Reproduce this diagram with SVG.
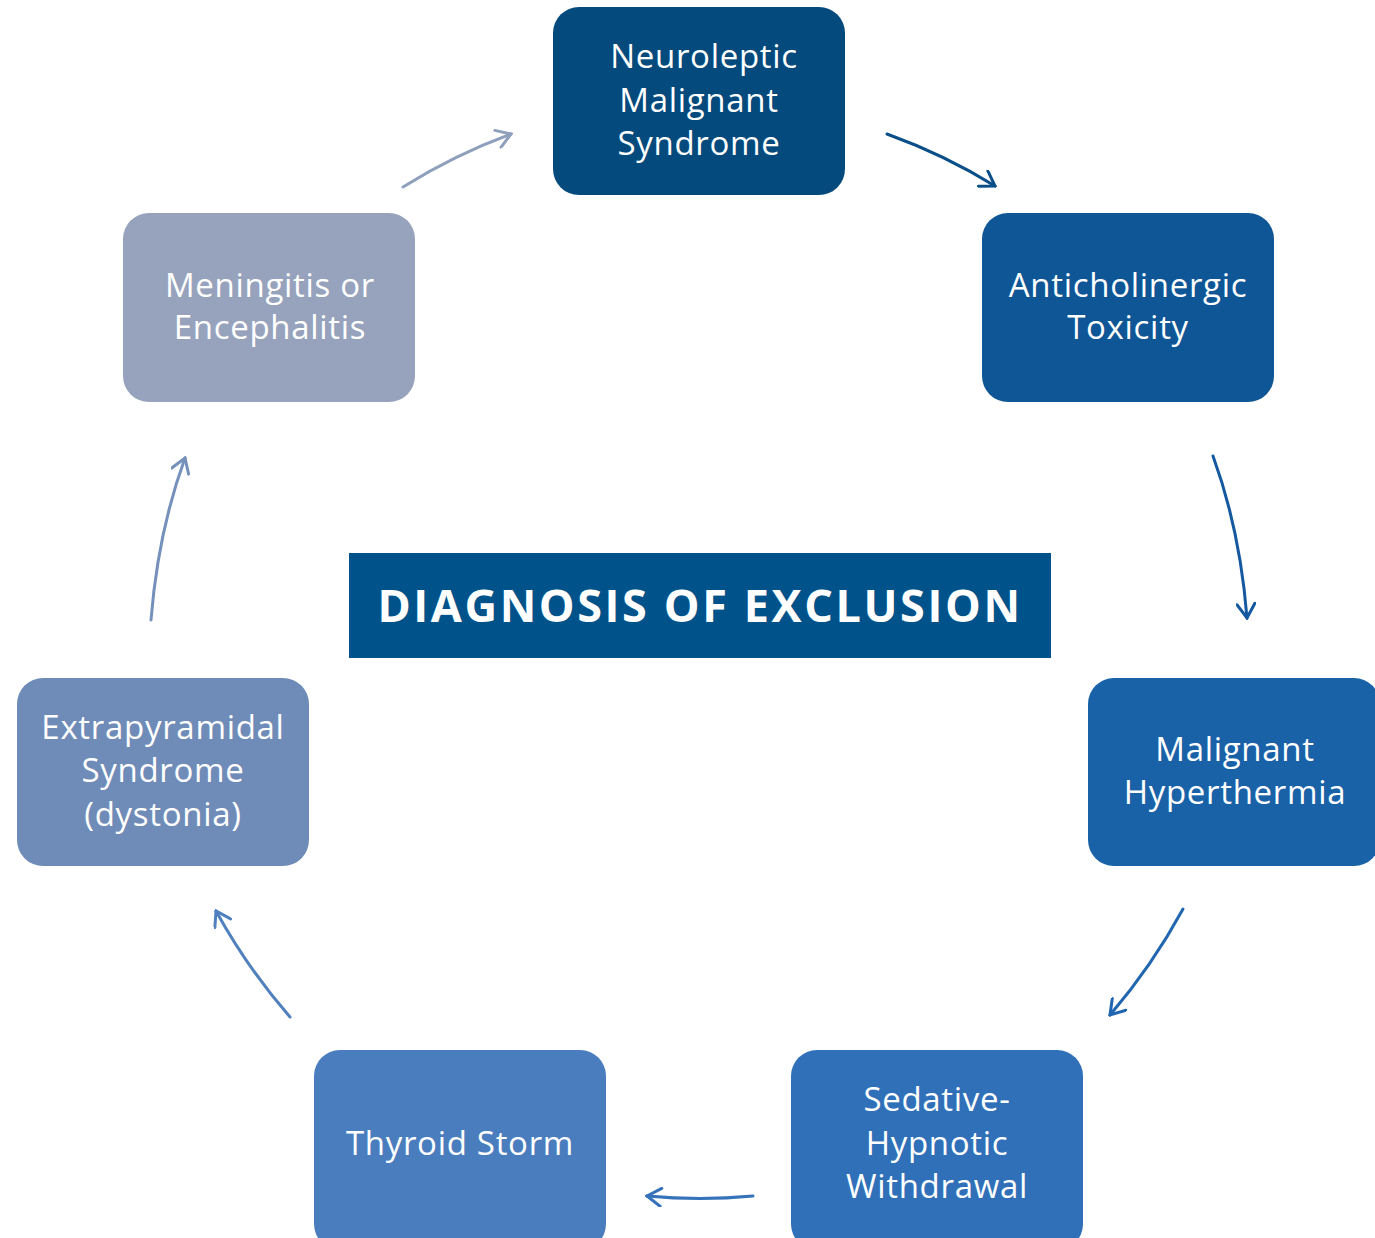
<svg xmlns="http://www.w3.org/2000/svg" width="1375" height="1238" viewBox="0 0 1375 1238">
<style>
.n{font-family:"Open Sans","Liberation Sans",sans-serif;font-size:33px;fill:#fff;text-anchor:middle;letter-spacing:0.7px}
.t{font-family:"Open Sans","Liberation Sans",sans-serif;font-size:45px;font-weight:bold;fill:#fff;text-anchor:middle;letter-spacing:2.6px}
.c{fill:none;stroke-width:3;stroke-linecap:round}
</style>
<defs>
<marker id="a1" viewBox="0 0 20 20" refX="18" refY="10" markerWidth="20" markerHeight="20" markerUnits="userSpaceOnUse" orient="auto"><path d="M4,1 L18,10 L4,19" fill="none" stroke="#0a4f88" stroke-width="3" stroke-linecap="round"/></marker>
<marker id="a2" viewBox="0 0 20 20" refX="18" refY="10" markerWidth="20" markerHeight="20" markerUnits="userSpaceOnUse" orient="auto"><path d="M4,1 L18,10 L4,19" fill="none" stroke="#1458a0" stroke-width="3" stroke-linecap="round"/></marker>
<marker id="a3" viewBox="0 0 20 20" refX="18" refY="10" markerWidth="20" markerHeight="20" markerUnits="userSpaceOnUse" orient="auto"><path d="M4,1 L18,10 L4,19" fill="none" stroke="#2166b0" stroke-width="3" stroke-linecap="round"/></marker>
<marker id="a4" viewBox="0 0 20 20" refX="18" refY="10" markerWidth="20" markerHeight="20" markerUnits="userSpaceOnUse" orient="auto"><path d="M4,1 L18,10 L4,19" fill="none" stroke="#3572ba" stroke-width="3" stroke-linecap="round"/></marker>
<marker id="a5" viewBox="0 0 20 20" refX="18" refY="10" markerWidth="20" markerHeight="20" markerUnits="userSpaceOnUse" orient="auto"><path d="M4,1 L18,10 L4,19" fill="none" stroke="#5080bd" stroke-width="3" stroke-linecap="round"/></marker>
<marker id="a6" viewBox="0 0 20 20" refX="18" refY="10" markerWidth="20" markerHeight="20" markerUnits="userSpaceOnUse" orient="auto"><path d="M4,1 L18,10 L4,19" fill="none" stroke="#7490bb" stroke-width="3" stroke-linecap="round"/></marker>
<marker id="a7" viewBox="0 0 20 20" refX="18" refY="10" markerWidth="20" markerHeight="20" markerUnits="userSpaceOnUse" orient="auto"><path d="M4,1 L18,10 L4,19" fill="none" stroke="#8fa0bd" stroke-width="3" stroke-linecap="round"/></marker>
</defs>
<rect width="1375" height="1238" fill="#fff"/>
<g id="connectors">
<path class="c" stroke="#0a4f88" marker-end="url(#a1)" d="M887,134 Q945,155 995,186"/>
<path class="c" stroke="#1458a0" marker-end="url(#a2)" d="M1213,456 Q1240,530 1247,618"/>
<path class="c" stroke="#2166b0" marker-end="url(#a3)" d="M1183,909 Q1152,966 1110,1015"/>
<path class="c" stroke="#3572ba" marker-end="url(#a4)" d="M753,1196 Q700,1201 647,1196"/>
<path class="c" stroke="#5080bd" marker-end="url(#a5)" d="M290,1017 Q248,969 216,911"/>
<path class="c" stroke="#7490bb" marker-end="url(#a6)" d="M151,620 Q158,532 185,458"/>
<path class="c" stroke="#8fa0bd" marker-end="url(#a7)" d="M403,187 Q454,155 511,134"/>
</g>
<g id="nms"><rect x="553" y="7" width="292" height="188" rx="26" fill="#044a7d"/>
<text class="n"><tspan x="704" y="68">Neuroleptic</tspan><tspan x="699" y="112">Malignant</tspan><tspan x="699" y="155">Syndrome</tspan></text></g>
<g id="anticholinergic"><rect x="982" y="213" width="292" height="189" rx="26" fill="#0e5696"/>
<text class="n"><tspan x="1128" y="297">Anticholinergic</tspan><tspan x="1128" y="339">Toxicity</tspan></text></g>
<g id="malignant-hyperthermia"><rect x="1088" y="678" width="292" height="188" rx="26" fill="#1a62a8"/>
<text class="n"><tspan x="1235" y="761">Malignant</tspan><tspan x="1235" y="804">Hyperthermia</tspan></text></g>
<g id="sedative"><rect x="791" y="1050" width="292" height="200" rx="26" fill="#2f70b8"/>
<text class="n"><tspan x="937" y="1111">Sedative-</tspan><tspan x="937" y="1155">Hypnotic</tspan><tspan x="937" y="1198">Withdrawal</tspan></text></g>
<g id="thyroid"><rect x="314" y="1050" width="292" height="200" rx="26" fill="#4a7dbe"/>
<text class="n"><tspan x="460" y="1155">Thyroid Storm</tspan></text></g>
<g id="extrapyramidal"><rect x="17" y="678" width="292" height="188" rx="26" fill="#6f8cb8"/>
<text class="n"><tspan x="163" y="739">Extrapyramidal</tspan><tspan x="163" y="782">Syndrome</tspan><tspan x="163" y="826">(dystonia)</tspan></text></g>
<g id="meningitis"><rect x="123" y="213" width="292" height="189" rx="26" fill="#97a3bc"/>
<text class="n"><tspan x="270" y="297">Meningitis or</tspan><tspan x="270" y="339">Encephalitis</tspan></text></g>
<g id="title"><rect x="349" y="553" width="702" height="105" fill="#00538a"/>
<text class="t" x="700" y="622">DIAGNOSIS OF EXCLUSION</text></g>
</svg>
